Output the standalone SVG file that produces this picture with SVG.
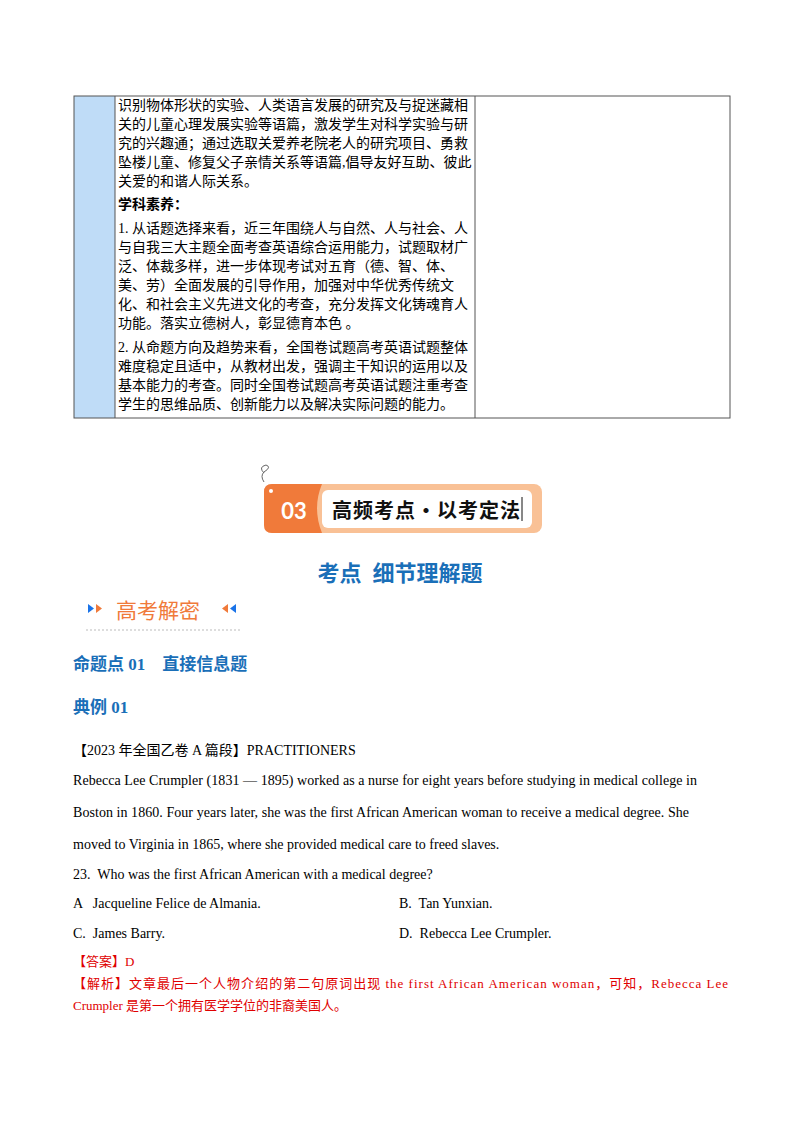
<svg xmlns="http://www.w3.org/2000/svg" width="800" height="1132" viewBox="0 0 800 1132" xml:space="preserve">
<style>
text{white-space:pre}
.t{font-family:"Liberation Serif","Noto Sans CJK SC",serif;font-size:14px;fill:#000}
.b{font-family:"Liberation Serif","Noto Sans CJK SC",serif;font-weight:bold;fill:#1a6fb8}
.e{font-family:"Liberation Serif","Noto Sans CJK SC",serif;font-size:14px;fill:#000}
.r{font-family:"Liberation Serif","Noto Sans CJK SC",serif;font-size:13px;fill:#e00000}
</style>
<rect width="800" height="1132" fill="#fff"/>
<g id="table">
<rect x="74" y="96" width="41" height="322" fill="#bfdcf7"/>
<rect x="74" y="96" width="656" height="322" fill="none" stroke="#555" stroke-width="1"/>
<line x1="115" y1="96" x2="115" y2="418" stroke="#555"/>
<line x1="475" y1="96" x2="475" y2="418" stroke="#555"/>
<text class="t"><tspan x="118" y="110">识别物体形状的实验、人类语言发展的研究及与捉迷藏相</tspan><tspan x="118" y="129">关的儿童心理发展实验等语篇，激发学生对科学实验与研</tspan><tspan x="118" y="148">究的兴趣通；通过选取关爱养老院老人的研究项目、勇救</tspan><tspan x="118" y="167">坠楼儿童、修复父子亲情关系等语篇,倡导友好互助、彼此</tspan><tspan x="118" y="186">关爱的和谐人际关系。</tspan></text>
<text class="t" x="118" y="209" font-weight="bold">学科素养：</text>
<text class="t"><tspan x="118" y="233">1. 从话题选择来看，近三年围绕人与自然、人与社会、人</tspan><tspan x="118" y="252">与自我三大主题全面考查英语综合运用能力，试题取材广</tspan><tspan x="118" y="271">泛、体裁多样，进一步体现考试对五育（德、智、体、</tspan><tspan x="118" y="290">美、劳）全面发展的引导作用，加强对中华优秀传统文</tspan><tspan x="118" y="309">化、和社会主义先进文化的考查，充分发挥文化铸魂育人</tspan><tspan x="118" y="328">功能。落实立德树人，彰显德育本色 。</tspan></text>
<text class="t"><tspan x="118" y="352">2. 从命题方向及趋势来看，全国卷试题高考英语试题整体</tspan><tspan x="118" y="371">难度稳定且适中，从教材出发，强调主干知识的运用以及</tspan><tspan x="118" y="390">基本能力的考查。同时全国卷试题高考英语试题注重考查</tspan><tspan x="118" y="409">学生的思维品质、创新能力以及解决实际问题的能力。</tspan></text>
</g>
<g id="banner">
<path d="M264 473 q-6 -6 2 -8 q6 2 -2 7 q-4 4 0 10" fill="none" stroke="#666" stroke-width="1"/>
<rect x="264" y="484" width="278" height="49" rx="8" fill="#f9c196"/>
<path d="M272 484 h50 q-10 24 0 49 h-50 q-8 0 -8 -8 v-33 q0 -8 8 -8z" fill="#f07a3a"/>
<rect x="322" y="490" width="210" height="38" rx="6" fill="#fff"/>
<circle cx="271" cy="491" r="2" fill="#fff"/>
<text x="294" y="519" font-family="Lato,'Noto Sans',sans-serif" font-weight="bold" font-size="22" fill="#fff" text-anchor="middle">03</text>
<text x="332" y="518" font-family="'Noto Sans CJK SC',sans-serif" font-weight="bold" font-size="20" fill="#111" textLength="188">高频考点·以考定法</text>
<line x1="522" y1="497" x2="522" y2="521" stroke="#111"/>
</g>
<text x="400" y="581" class="b" font-size="22" text-anchor="middle">考点  细节理解题</text>
<g id="gkjm">
<path d="M88 604 l6 4.5 l-6 4.5z" fill="#1a73e8"/><path d="M96 604 l6 4.5 l-6 4.5z" fill="#f07a3a"/>
<text x="116" y="618" font-family="'Noto Sans CJK SC',sans-serif" font-size="21" fill="#f07a3a">高考解密</text>
<path d="M228 604 l-6 4.5 l6 4.5z" fill="#f07a3a"/><path d="M236 604 l-6 4.5 l6 4.5z" fill="#1a73e8"/>
<line x1="86" y1="630" x2="240" y2="630" stroke="#bbb" stroke-dasharray="2,2"/>
</g>
<text x="73" y="670" class="b" font-size="17">命题点 01    直接信息题</text>
<text x="73" y="713" class="b" font-size="17">典例 01</text>
<text class="e" x="73" y="755">【2023 年全国乙卷 A 篇段】PRACTITIONERS</text>
<text class="e" x="73" y="785" textLength="624" lengthAdjust="spacing">Rebecca Lee Crumpler (1831 — 1895) worked as a nurse for eight years before studying in medical college in</text>
<text class="e" x="73" y="817" textLength="616" lengthAdjust="spacing">Boston in 1860. Four years later, she was the first African American woman to receive a medical degree. She</text>
<text class="e" x="73" y="849">moved to Virginia in 1865, where she provided medical care to freed slaves.</text>
<text class="e" x="73" y="879">23.  Who was the first African American with a medical degree?</text>
<text class="e" x="73" y="908">A   Jacqueline Felice de Almania.</text>
<text class="e" x="399" y="908">B.  Tan Yunxian.</text>
<text class="e" x="73" y="938">C.  James Barry.</text>
<text class="e" x="399" y="938">D.  Rebecca Lee Crumpler.</text>
<text class="r" x="73" y="966">【答案】D</text>
<text class="r" x="73" y="988" textLength="655" lengthAdjust="spacing">【解析】文章最后一个人物介绍的第二句原词出现 the first African American woman，可知，Rebecca Lee</text>
<text class="r" x="73" y="1010">Crumpler 是第一个拥有医学学位的非裔美国人。</text>
</svg>
